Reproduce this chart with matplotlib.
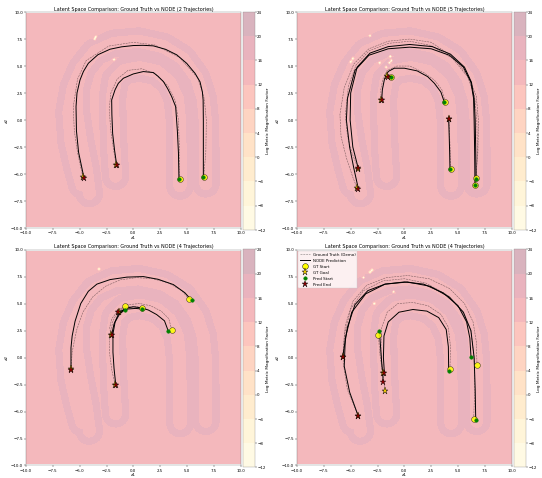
import numpy as np
import matplotlib
matplotlib.use("Agg")
import matplotlib.pyplot as plt
from matplotlib.lines import Line2D
from matplotlib.colors import ListedColormap, BoundaryNorm

# ---------------- background manifold (tube centerlines) ----------------
outer_cx = [6.75, 6.75, 6.7, 6.5, 5.9, 4.6, 2.8, 0.5, -1.8, -3.6, -4.8, -5.3, -5.3, -4.9, -4.4, -4.1]
outer_cy = [-5.9, -3.0, 0.0, 2.0, 3.9, 5.7, 6.8, 7.3, 7.1, 6.3, 4.8, 3.0, 0.7, -2.0, -4.5, -6.8]
outer2_cx = [-4.8, -5.6, -6.0, -5.8, -5.3, -4.8]
outer2_cy = [4.8, 3.0, 0.7, -2.0, -4.2, -6.0]
inner_cx = [4.35, 4.35, 4.3, 4.1, 3.4, 2.2, 0.6, -0.8, -1.7, -1.95, -1.9, -1.8, -1.65]
inner_cy = [-6.1, -3.0, 0.0, 2.0, 3.5, 4.5, 4.85, 4.6, 3.7, 2.0, 0.0, -3.0, -5.2]
tube_radius = 0.95

# pale low-value spots per panel
spots_x = [[-3.6, -3.5, -1.8],
           [-3.2, -5.0, -4.8, -2.3, -1.3, -1.2, -1.4, -1.7],
           [-3.2],
           [-3.2, -3.0, -3.8, -1.0, -2.8]]
spots_y = [[7.5, 7.7, 5.6],
           [7.8, 5.4, 5.7, 5.3, 5.9, 5.5, 5.3, 4.9],
           [8.2],
           [7.9, 8.1, 7.4, 6.1, 5.0]]

# ---------------- trajectories ----------------
titles = ["Latent Space Comparison: Ground Truth vs NODE (2 Trajectories)",
          "Latent Space Comparison: Ground Truth vs NODE (5 Trajectories)",
          "Latent Space Comparison: Ground Truth vs NODE (4 Trajectories)",
          "Latent Space Comparison: Ground Truth vs NODE (4 Trajectories)"]

# panel 1
p1_gt_x = [[6.55, 6.75, 6.8, 6.6, 6.0, 4.3, 2.0, 0.0, -2.3, -4.4, -5.2, -5.6, -5.5, -5.2, -4.7],
           [4.3, 4.3, 4.2, 3.9, 3.2, 2.0, 0.8, -0.5, -1.5, -2.1, -2.25, -2.1, -1.8, -1.6]]
p1_gt_y = [[-5.3, -3.0, 0.0, 2.0, 3.9, 5.8, 6.95, 7.2, 6.85, 5.5, 3.8, 1.2, -1.0, -3.0, -5.3],
           [-5.45, -3.0, 0.0, 1.8, 3.2, 4.3, 4.75, 4.6, 3.8, 2.5, 1.0, -1.0, -3.0, -4.2]]
p1_pr_x = [[6.52, 6.52, 6.52, 6.50, 6.43, 6.21, 5.75, 4.97, 4.04, 3.0, 1.86, 0.9, 0.0, -1.1, -2.17,
            -3.3, -4.19, -4.65, -4.97, -5.25, -5.34, -5.3, -5.1, -4.6],
           [4.25, 4.2, 4.1, 3.94, 3.57, 3.2, 2.80, 2.3, 1.86, 0.93, 0.0, -0.93, -1.4, -1.71, -2.02,
            -2.0, -1.93, -1.75, -1.55]]
p1_pr_y = [[-5.29, -3.0, 0.0, 1.86, 2.61, 3.54, 4.32, 5.25, 6.04, 6.55, 6.87, 6.92, 6.9, 6.78, 6.56,
            6.05, 5.26, 4.5, 3.71, 2.5, 1.24, -1.0, -3.0, -5.36],
           [-5.48, -3.0, -1.0, 1.24, 2.17, 2.9, 3.56, 4.05, 4.40, 4.49, 4.27, 3.87, 3.4, 2.79, 1.86,
            0.5, -1.24, -2.8, -4.18]]

# panel 2
p2_gt_x = [[6.6, 6.85, 6.9, 6.7, 6.0, 4.6, 2.5, 0.5, -1.5, -3.3, -4.7, -5.6, -6.0, -5.9, -5.4, -4.8, -4.4],
           [6.7, 6.8, 6.75, 6.55, 5.9, 4.5, 2.5, 0.5, -1.5, -3.3, -4.5, -5.2, -5.5, -5.3, -4.9, -4.3],
           [4.3, 4.28, 4.22, 4.15],
           [3.8, 3.5, 2.8, 1.8, 0.5, -0.7, -1.6, -2.0, -2.2, -2.15],
           [-1.2, -1.4, -1.6]]
p2_gt_y = [[-6.0, -3.0, 0.0, 2.2, 4.0, 5.8, 7.2, 7.5, 7.3, 6.6, 5.2, 3.0, 0.5, -1.5, -3.5, -5.3, -6.3],
           [-5.4, -3.0, 0.0, 2.2, 4.0, 5.7, 6.9, 7.3, 7.1, 6.4, 5.1, 3.2, 0.5, -1.5, -3.0, -4.5],
           [-4.5, -3.0, -1.5, 0.1],
           [1.7, 2.8, 3.7, 4.4, 5.0, 5.0, 4.6, 3.8, 2.8, 1.9],
           [4.0, 4.1, 4.05]]
p2_pr_x = [[6.58, 6.55, 6.5, 6.45, 6.2, 5.5, 4.2, 2.5, 0.5, -1.5, -3.3, -4.6, -5.3, -5.4, -5.1, -4.7, -4.29],
           [6.68, 6.65, 6.6, 6.5, 6.25, 5.6, 4.3, 2.6, 0.5, -1.5, -3.2, -4.4, -5.0, -5.05, -4.8, -4.29],
           [4.25, 4.22, 4.18, 4.13],
           [3.73, 3.4, 2.8, 2.17, 1.2, 0.0, -0.93, -1.5, -1.85, -2.05, -2.11],
           [-1.24, -1.4, -1.55]]
p2_pr_y = [[-6.04, -3.0, 0.0, 2.0, 3.5, 4.9, 6.0, 6.6, 6.75, 6.6, 6.0, 4.6, 2.0, 0.0, -2.5, -4.5, -6.35],
           [-5.42, -3.0, 0.0, 2.0, 3.5, 4.9, 6.1, 6.8, 7.0, 6.8, 6.2, 4.9, 2.5, 0.0, -2.5, -4.49],
           [-4.55, -3.0, -1.5, 0.06],
           [1.64, 2.6, 3.4, 4.02, 4.55, 4.8, 4.8, 4.5, 3.8, 2.8, 1.86],
           [3.96, 4.0, 4.0]]

# panel 3
p3_gt_x = [[5.19, 4.5, 3.3, 1.8, 0.3, -1.2, -2.6, -3.8, -4.7, -5.3, -5.7, -5.8],
           [3.57, 3.3, 2.6, 1.6, 0.6, -0.5, -1.4, -2.0, -2.2, -2.1],
           [0.78, 0.2, -0.5, -1.0, -1.35],
           [-0.78, -1.4, -1.9, -2.2, -2.2, -2.0, -1.7]]
p3_gt_y = [[5.43, 6.2, 6.9, 7.3, 7.4, 7.2, 6.6, 5.6, 4.2, 2.5, 0.5, -1.1],
           [2.59, 3.6, 4.3, 4.8, 5.0, 4.9, 4.4, 3.6, 2.8, 2.1],
           [4.6, 4.75, 4.7, 4.5, 4.25],
           [4.75, 4.3, 3.4, 2.0, 0.3, -1.2, -2.5]]
p3_pr_x = [[5.43, 4.8, 3.73, 2.3, 0.93, -0.6, -2.17, -3.4, -4.19, -4.9, -5.43, -5.7, -5.81, -5.81],
           [3.26, 2.9, 2.17, 1.4, 0.78, 0.0, -0.78, -1.4, -1.8, -2.02],
           [0.78, 0.2, -0.5, -1.0, -1.4],
           [-0.78, -1.3, -1.7, -1.9, -1.9, -1.8, -1.64]]
p3_pr_y = [[5.31, 6.0, 6.76, 7.25, 7.5, 7.45, 7.22, 6.8, 6.14, 5.0, 3.36, 2.0, 0.9, -1.17],
           [2.44, 3.4, 3.98, 4.4, 4.6, 4.7, 4.55, 4.0, 3.1, 2.13],
           [4.5, 4.55, 4.5, 4.35, 4.23],
           [4.45, 4.0, 3.3, 2.2, 0.5, -1.0, -2.5]]

# panel 4
p4_gt_x = [[6.77, 6.7, 6.4, 5.6, 4.2, 2.3, 0.3, -1.7, -3.5, -4.8, -5.5, -5.75],
           [6.46, 6.55, 6.5, 6.2, 5.4, 4.0, 2.0, 0.0, -2.0, -3.8, -5.0, -5.6, -5.7, -5.3, -4.29],
           [4.25, 4.3, 4.1, 3.4, 2.2, 0.8, -0.6, -1.6, -2.1, -2.2, -2.0],
           [-2.42, -2.3, -2.1, -1.9, -1.77]]
p4_gt_y = [[-0.71, 1.5, 3.3, 5.0, 6.4, 7.3, 7.6, 7.4, 6.7, 5.2, 3.0, 0.03],
           [-5.68, -3.0, 0.0, 2.5, 4.3, 5.8, 6.9, 7.3, 7.1, 6.2, 4.5, 2.0, -0.5, -3.0, -5.43],
           [-1.05, 1.0, 2.8, 4.0, 4.8, 5.1, 5.0, 4.2, 2.8, 0.5, -1.42],
           [2.13, 0.5, -1.0, -2.2, -3.12]]
p4_pr_x = [[6.21, 6.1, 5.8, 5.0, 3.6, 1.8, 0.0, -1.8, -3.4, -4.6, -5.3, -5.75],
           [6.65, 6.6, 6.5, 6.2, 5.5, 4.2, 2.4, 0.3, -1.8, -3.6, -4.9, -5.5, -5.6, -5.1, -4.29],
           [4.13, 4.1, 3.9, 3.2, 2.1, 0.8, -0.5, -1.5, -1.9, -1.95, -1.86],
           [-2.33, -2.2, -2.1, -2.0, -1.99]]
p4_pr_y = [[0.03, 1.8, 3.3, 4.8, 6.0, 6.8, 7.0, 6.8, 6.2, 4.9, 2.8, 0.03],
           [-5.83, -3.0, 0.0, 2.5, 4.2, 5.6, 6.6, 7.0, 6.8, 5.9, 4.2, 1.8, -0.8, -3.2, -5.43],
           [-1.27, 1.0, 2.6, 3.7, 4.3, 4.45, 4.2, 3.3, 2.0, 0.0, -1.42],
           [2.5, 0.8, -0.6, -1.6, -2.25]]

panels = [(p1_gt_x, p1_gt_y, p1_pr_x, p1_pr_y),
          (p2_gt_x, p2_gt_y, p2_pr_x, p2_pr_y),
          (p3_gt_x, p3_gt_y, p3_pr_x, p3_pr_y),
          (p4_gt_x, p4_gt_y, p4_pr_x, p4_pr_y)]

cbar_ticks = [-12, -8, -4, 0, 4, 8, 12, 16, 20, 24]
levels = [-12, -8, -4, 0, 4, 8, 12, 16, 20, 24]
field_alpha = 0.3


def dist_polyline(X, Y, px, py):
    px = np.asarray(px); py = np.asarray(py)
    d = np.full(X.shape, np.inf)
    for i in range(len(px) - 1):
        ax_, ay_ = px[i], py[i]
        bx_, by_ = px[i + 1], py[i + 1]
        vx, vy = bx_ - ax_, by_ - ay_
        L2 = vx * vx + vy * vy
        t = np.clip(((X - ax_) * vx + (Y - ay_) * vy) / L2, 0, 1)
        dd = np.hypot(X - (ax_ + t * vx), Y - (ay_ + t * vy))
        d = np.minimum(d, dd)
    return d


xs = np.linspace(-10, 10, 500)
ys = np.linspace(-9.85, 9.85, 500)
X, Y = np.meshgrid(xs, ys)
D = np.minimum(np.minimum(dist_polyline(X, Y, outer_cx, outer_cy),
                          dist_polyline(X, Y, outer2_cx, outer2_cy)),
               dist_polyline(X, Y, inner_cx, inner_cy))
Z_base = 14.0 + 5.0 * np.exp(-((D - tube_radius) / 0.3) ** 2)

# colours: YlOrRd, blended over white (alpha) to avoid seams between bands
base_cmap = plt.get_cmap("YlOrRd")
band_cols = []
for i in range(len(levels) - 1):
    v = levels[i + 1]
    c = np.array(base_cmap((v - levels[0]) / (levels[-1] - levels[0]))[:3])
    band_cols.append(1 - field_alpha * (1 - c))
cmap = ListedColormap(band_cols)
norm = BoundaryNorm(levels, cmap.N)

W, H = 542, 478
fig = plt.figure(figsize=(17, 15), dpi=542 / 17)


def fx(px):
    return px / W


def fy(py):
    return 1 - py / H


ax_pos = [(26, 12.3), (297, 12.3), (26, 249.7), (297, 249.7)]
axw, axh = 214.7, 215.8

for k in range(4):
    x0, y0 = ax_pos[k]
    ax = fig.add_axes([fx(x0), fy(y0 + axh), axw / W, axh / H])
    cax = fig.add_axes([fx(x0 + 217), fy(y0 + axh + 2), 11.7 / W, (axh + 2.3) / H])
    Z = Z_base.copy()
    for sx, sy in zip(spots_x[k], spots_y[k]):
        Z -= 40 * np.exp(-((X - sx) ** 2 + (Y - sy) ** 2) / 0.13 ** 2)
    Z = np.clip(Z, -11.9, 23.9)
    cf = ax.contourf(X, Y, Z, levels=levels, cmap=cmap, norm=norm, antialiased=False)
    cb = fig.colorbar(cf, cax=cax, ticks=cbar_ticks)
    cb.outline.set_edgecolor("#888888")
    cb.set_label("Log Metric Magnification Factor", fontsize=9.5, labelpad=2)
    cb.ax.tick_params(labelsize=9, pad=2)

    gx, gy, prx, pry = panels[k]
    for i in range(len(gx)):
        ax.plot(gx[i], gy[i], ls="--", color="k", lw=1.2, alpha=0.5)
        ax.plot(prx[i], pry[i], ls="-", color="k", lw=2.2)
    for i in range(len(gx)):
        ax.plot(gx[i][0], gy[i][0], "o", color="yellow", mec="k", ms=13, mew=1, alpha=0.85)
        ax.plot(gx[i][-1], gy[i][-1], "*", color="gold", mec="k", ms=16, mew=1)
    for i in range(len(gx)):
        ax.plot(prx[i][0], pry[i][0], "o", color="green", ms=8)
        ax.plot(prx[i][-1], pry[i][-1], "*", color="darkred", mec="k", ms=14, mew=0.8)

    ax.set_xlim(-10, 10)
    ax.set_ylim(-10, 10)
    ax.set_xticks([-10, -7.5, -5, -2.5, 0, 2.5, 5, 7.5, 10])
    ax.set_yticks([-10, -7.5, -5, -2.5, 0, 2.5, 5, 7.5, 10])
    ax.tick_params(labelsize=9)
    for s in ax.spines.values():
        s.set_edgecolor("#666666")
    ax.set_xlabel("z1", fontsize=10, labelpad=1)
    ax.set_ylabel("z2", fontsize=10)
    ax.set_title(titles[k], fontsize=11, pad=4)

    if k == 3:
        handles = [Line2D([], [], ls="--", color="k", lw=1.2, alpha=0.5),
                   Line2D([], [], ls="-", color="k", lw=2.2),
                   Line2D([], [], ls="", marker="o", color="yellow", mec="k", ms=13),
                   Line2D([], [], ls="", marker="*", color="gold", mec="k", ms=16),
                   Line2D([], [], ls="", marker="o", color="green", ms=8),
                   Line2D([], [], ls="", marker="*", color="darkred", mec="k", ms=14)]
        ax.legend(handles, ["Ground Truth (Demo)", "NODE Prediction", "GT Start", "GT Goal",
                            "Pred Start", "Pred End"], loc="upper left", fontsize=9,
                  borderaxespad=0.3, handlelength=2.5)

fig.savefig("out.png", dpi=542 / 17)
